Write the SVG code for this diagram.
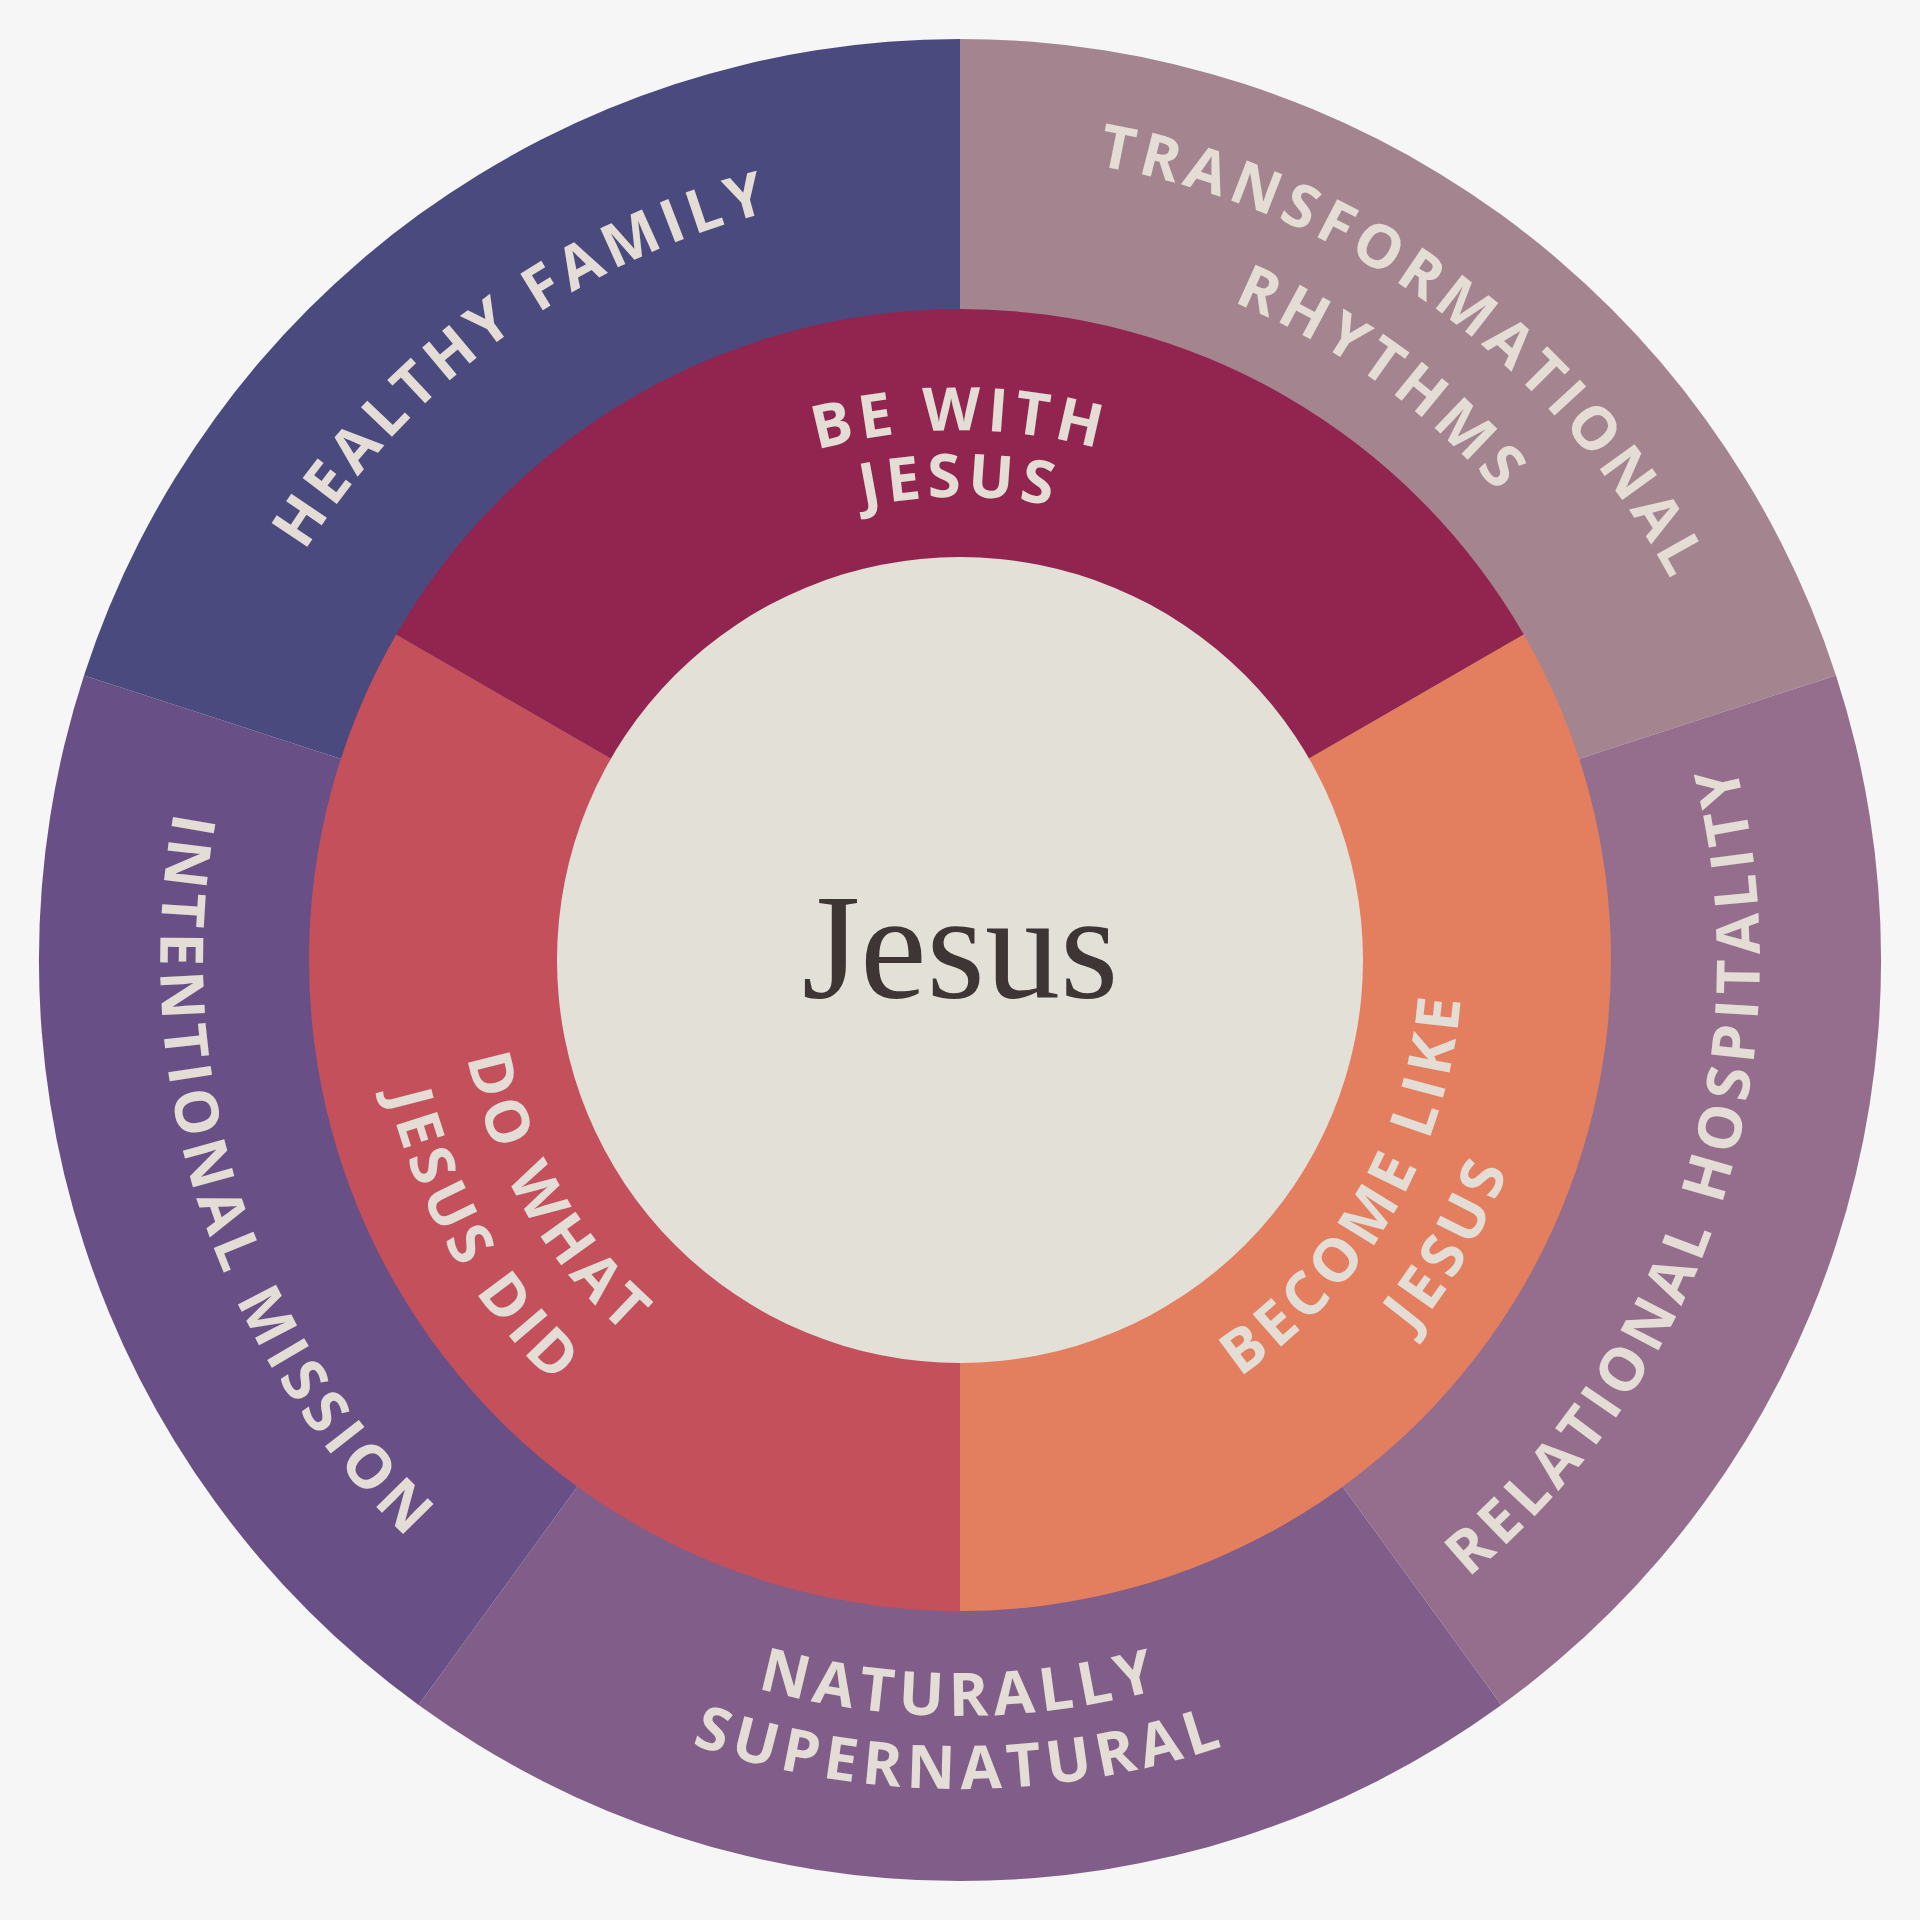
<svg xmlns="http://www.w3.org/2000/svg" xmlns:xlink="http://www.w3.org/1999/xlink" width="1920" height="1920" viewBox="0 0 1920 1920">
<style>
.lbl{font-family:"Open Sans","Liberation Sans",sans-serif;font-weight:700;font-size:60px;fill:#E3DDD5;letter-spacing:6px}
</style>
<defs>
<path id="cw772" d="M199.7,826 A772 772 0 0 1 1720.3,826"/>
<path id="cw806" d="M166.2,820.1 A806 806 0 0 1 1753.8,820.1"/>
<path id="cw713" d="M257.9,836.2 A713 713 0 0 1 1662.1,836.2"/>
<path id="cw530" d="M438.1,868 A530 530 0 0 1 1481.9,868"/>
<path id="cw463" d="M504,879.6 A463 463 0 0 1 1416,879.6"/>
<path id="ccw800" d="M172.2,1098.9 A800 800 0 0 0 1747.8,1098.9"/>
<path id="ccw756" d="M215.5,1091.2 A756 756 0 0 0 1704.5,1091.2"/>
<path id="ccw829" d="M143.6,1103.9 A829 829 0 0 0 1776.4,1103.9"/>
<path id="ccw502" d="M465.6,1047.1 A502 502 0 0 0 1454.4,1047.1"/>
<path id="ccw587" d="M381.9,1061.9 A587 587 0 0 0 1538.1,1061.9"/>
</defs>
<rect width="1920" height="1920" fill="#F6F6F6"/>
<g id="outer">
<path d="M960 960 L960 39 A921 921 0 0 1 1836 675.4Z" fill="#A4848E"/>
<path d="M960 960 L1836 675.4 A921 921 0 0 1 1501.4 1705.1Z" fill="#946E8C"/>
<path d="M960 960 L1501.4 1705.1 A921 921 0 0 1 418.6 1705.1Z" fill="#815D8A"/>
<path d="M960 960 L418.6 1705.1 A921 921 0 0 1 84 675.4Z" fill="#684F86"/>
<path d="M960 960 L84 675.4 A921 921 0 0 1 960 39Z" fill="#4B4A7F"/>
</g>
<g id="middle">
<path d="M960 960 L396.2 634.5 A651 651 0 0 1 1523.8 634.5Z" fill="#92254F"/>
<path d="M960 960 L1523.8 634.5 A651 651 0 0 1 960 1611Z" fill="#E37E5F"/>
<path d="M960 960 L960 1611 A651 651 0 0 1 396.2 634.5Z" fill="#C4505B"/>
</g>
<g id="center">
<circle cx="960" cy="960" r="403" fill="#E3E0D8"/>
<text x="960" y="998" text-anchor="middle" font-family="Liberation Serif,serif" font-size="150" fill="#3E3535">Jesus</text>
</g>
<g id="labels" class="lbl" text-anchor="middle">
<text class="lbl" transform="rotate(-36 960 960)"><textPath href="#cw772" startOffset="50%">HEALTHY FAMILY</textPath></text>
<text class="lbl" transform="rotate(36 960 960)"><textPath href="#cw806" startOffset="50%">TRANSFORMATIONAL</textPath></text>
<text class="lbl" transform="rotate(36 960 960)"><textPath href="#cw713" startOffset="50%">RHYTHMS</textPath></text>
<text class="lbl" transform="rotate(-72 960 960)"><textPath href="#ccw800" startOffset="50%">RELATIONAL HOSPITALITY</textPath></text>
<text class="lbl" transform="rotate(72 960 960)"><textPath href="#ccw800" startOffset="50%">INTENTIONAL MISSION</textPath></text>
<text class="lbl"><textPath href="#ccw756" startOffset="50%">NATURALLY</textPath></text>
<text class="lbl"><textPath href="#ccw829" startOffset="50%">SUPERNATURAL</textPath></text>
<text class="lbl"><textPath href="#cw530" startOffset="50%">BE WITH</textPath></text>
<text class="lbl"><textPath href="#cw463" startOffset="50%">JESUS</textPath></text>
<text class="lbl" transform="rotate(-60 960 960)"><textPath href="#ccw502" startOffset="50%">BECOME LIKE</textPath></text>
<text class="lbl" transform="rotate(-60 960 960)"><textPath href="#ccw587" startOffset="50%">JESUS</textPath></text>
<text class="lbl" transform="rotate(60 960 960)"><textPath href="#ccw502" startOffset="50%">DO WHAT</textPath></text>
<text class="lbl" transform="rotate(60 960 960)"><textPath href="#ccw587" startOffset="50%">JESUS DID</textPath></text>
</g>
</svg>
